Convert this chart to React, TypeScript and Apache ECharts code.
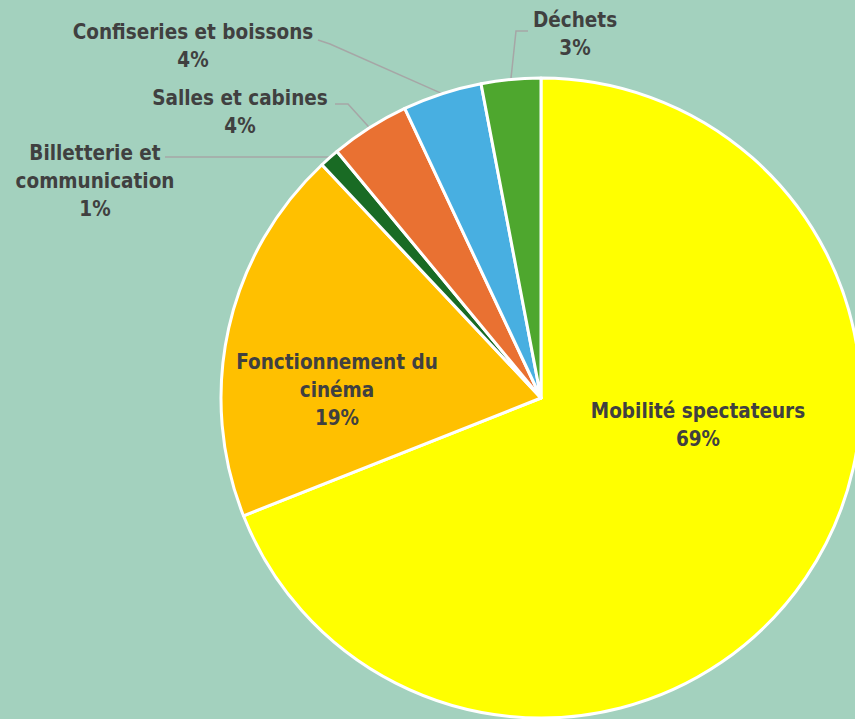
import React, { useEffect, useRef } from "react";
import * as echarts from "echarts";

const categories = [
  "Mobilité spectateurs",
  "Fonctionnement du cinéma",
  "Billetterie et communication",
  "Salles et cabines",
  "Confiseries et boissons",
  "Déchets",
];
const labelTexts = [
  "Mobilité spectateurs",
  "Fonctionnement du\ncinéma",
  "Billetterie et\ncommunication",
  "Salles et cabines",
  "Confiseries et boissons",
  "Déchets",
];
const values = [69, 19, 1, 4, 4, 3];
const colors = ["#FFFF00", "#FFC000", "#196B24", "#E97132", "#48AFE1", "#4EA72E"];
const insideFlags = [true, true, false, false, false, false];

// label anchor positions (center of text block)
const labelPos: number[][] = [
  [698, 425],
  [337, 390],
  [95, 181],
  [240, 112],
  [193, 46],
  [575, 34],
];
// leader line bend / end points
const linePts: number[][][] = [
  [],
  [],
  [[330, 157], [165, 157]],
  [[348, 104], [335, 104]],
  [[330, 44], [318, 40]],
  [[516, 31], [528, 31]],
];

export default function App() {
  const ref = useRef<HTMLDivElement>(null);
  useEffect(() => {
    if (!ref.current) return;
    const chart = echarts.init(ref.current, null, { renderer: "svg" });
    const font = "'DejaVu Sans Condensed', 'Liberation Sans Narrow', sans-serif";
    chart.setOption({
      animation: false,
      backgroundColor: "#A3D1BE",
      series: [
        {
          type: "pie",
          center: [541, 398],
          radius: 320,
          startAngle: 90,
          clockwise: true,
          avoidLabelOverlap: false,
          percentPrecision: 0,
          itemStyle: { borderColor: "#FFFFFF", borderWidth: 3 },
          label: {
            color: "#404040",
            fontFamily: font,
            fontWeight: "bold",
            fontSize: 20.5,
            lineHeight: 28,
            align: "center",
          },
          labelLine: {
            lineStyle: { color: "#A6A6A6", width: 1.5 },
          },
          labelLayout: (params: any) => {
            const i = params.dataIndex;
            const res: any = {
              x: labelPos[i][0],
              y: labelPos[i][1],
              align: "center",
              verticalAlign: "middle",
            };
            if (!insideFlags[i] && params.labelLinePoints) {
              const p0 = params.labelLinePoints[0];
              res.labelLinePoints = [p0, linePts[i][0], linePts[i][1]];
            }
            return res;
          },
          data: categories.map((c, i) => ({
            name: c,
            value: values[i],
            itemStyle: { color: colors[i] },
            label: {
              position: insideFlags[i] ? "inside" : "outside",
              formatter: (p: any) => labelTexts[i] + "\n" + p.percent + "%",
            },
            labelLine: { show: !insideFlags[i] },
          })),
        },
      ],
    });
    return () => chart.dispose();
  }, []);
  return (
    <div
      ref={ref}
      style={{ position: "absolute", left: 0, top: 0, width: 855, height: 719 }}
    />
  );
}
